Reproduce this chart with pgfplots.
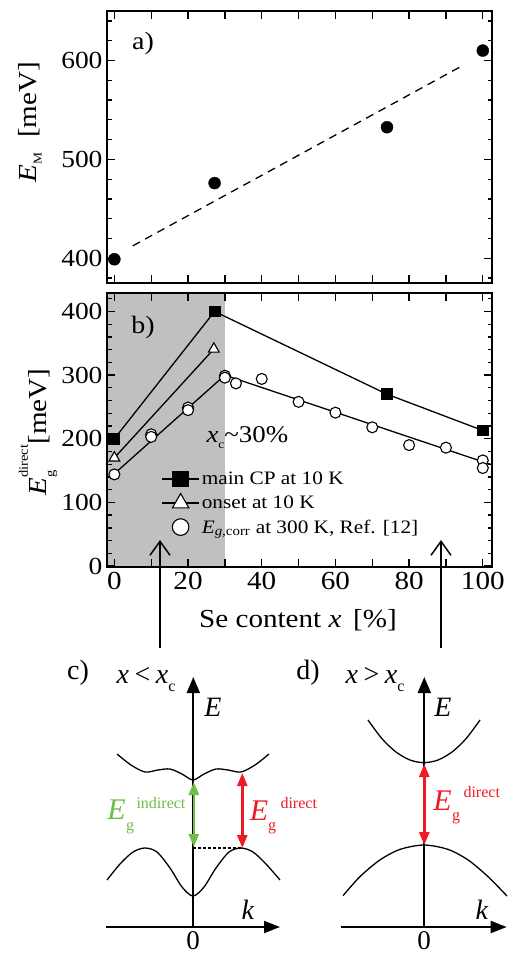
\documentclass[border=0pt]{standalone}
\usepackage{fontspec}
\setmainfont{Liberation Serif}
\usepackage{pgfplots}
\pgfplotsset{compat=1.18}
\usetikzlibrary{arrows.meta}
\definecolor{egreen}{RGB}{108,190,69}
\definecolor{ered}{RGB}{237,28,36}
\definecolor{shade}{RGB}{192,192,192}
\newcommand{\wide}[1]{\scalebox{1.12}[1]{#1}}
\newcommand{\fs}[1]{\fontsize{#1}{#1}\selectfont}
\newcommand{\yt}[1]{\wide{\fs{24.5}#1}}
\newcommand{\xt}[1]{\wide{\fs{26}#1}}
\pgfplotsset{
  panel/.style={
    scale only axis, width=385pt, anchor=south west,
    xmin=-2, xmax=102.5,
    xtick={0,10,...,100},
    tick align=inside, tick pos=both,
    major tick length=8pt, minor tick length=4.5pt,
    axis line style={line width=1.8pt},
    every tick/.append style={line width=1.3pt, black},
    /pgf/number format/assume math mode=true,
    yticklabel style={xshift=-1pt},
    axis on top,
  }
}
\begin{document}
\begin{tikzpicture}
\useasboundingbox (0,0) rectangle (507pt,-954pt);
% ---------------- a)
\begin{axis}[panel, at={(107pt,-283pt)}, height=272pt,
  ymin=375, ymax=650, ytick={400,500,600}, minor ytick={380,400,...,640},
  yticklabels={\yt{400},\yt{500},\yt{600}}, xticklabels={}]
\addplot[black, line width=1.3pt, dash pattern=on 8pt off 6pt] coordinates {(5,412.6)(95,595.8)};
\addplot[only marks, mark=*, mark size=6pt, black] coordinates {(0,399)(27.2,476)(74,532.5)(100,610)};
\end{axis}
% ---------------- b)
\begin{axis}[panel, at={(107pt,-567pt)}, height=274pt,
  ymin=-1.5, ymax=429, ytick={0,100,...,400}, minor ytick={0,20,...,420},
  yticklabels={\yt{0},\yt{100},\yt{200},\yt{300},\yt{400}},
  xticklabels={\xt{0},,\xt{20},,\xt{40},,\xt{60},,\xt{80},,\xt{100}},
  xticklabel style={yshift=-2pt},
  legend style={at={(rel axis cs:0.141,0.355)}, anchor=north west, draw=none, fill=none,
    font=\fs{19}, inner sep=0pt, row sep=5.5pt,
    /tikz/every even column/.append style={column sep=0pt}},
  legend cell align=left]
\addplot[fill=shade, draw=none, forget plot] coordinates {(-5,-10)(30,-10)(30,450)(-5,450)} -- cycle;
\addplot[black, line width=1.3pt, forget plot] coordinates {(0,145)(30,300)(102.5,159)};
\addplot[black, line width=1.3pt, mark=triangle*, mark size=6.2pt, mark options={fill=white, line width=1.1pt}, forget plot] coordinates {(0,170)(27,341)};
\addplot[black, line width=1.3pt, mark=square*, mark size=5.3pt, forget plot] coordinates {(0,200)(27.2,400)(74,270)(100,213)};
\addplot[only marks, mark=*, mark size=5.5pt, mark options={fill=white, draw=black, line width=1.1pt}, forget plot] coordinates {
(0,144)(10,207)(10,203)(20,249)(20,245)(30,299)(30,296)(33,287)(40,294)(50,258)(60,241)(70,218)(80,190)(90,186)(100,166)(100,154)};
\addlegendimage{legend image code/.code={\draw[black, line width=1.3pt, mark=square*, mark size=7.8pt, mark repeat=2, mark phase=2] plot coordinates {(0pt,0pt)(18.5pt,0pt)(37pt,0pt)};}}
\addlegendentry{\wide{main CP at 10 K}}
\addlegendimage{legend image code/.code={\draw[black, line width=1.3pt, mark=triangle*, mark size=9.5pt, mark options={fill=white, line width=1.1pt}, mark repeat=2, mark phase=2] plot coordinates {(0pt,0pt)(18.5pt,0pt)(37pt,0pt)};}}
\addlegendentry{\wide{onset at 10 K}}
\addlegendimage{legend image code/.code={\draw[black, line width=1.1pt, fill=white, only marks, mark=*, mark size=8.3pt, mark options={fill=white}] plot coordinates {(18.5pt,0pt)};\path (0pt,0pt) (37pt,0pt);}}
\addlegendentry{\wide{\textit{E}\textsubscript{\textit{g},corr} at 300 K, Ref. [12]}}
\end{axis}
% ---------------- overlay: labels, arrows, schematics c) d)
\begin{axis}[at={(0pt,-954pt)}, anchor=south west, scale only axis, width=507pt, height=954pt,
  xmin=0, xmax=507, ymin=-954, ymax=0, hide axis, clip=false]
% panel labels
\node[font=\fs{25}] at (axis cs:143,-43) {\wide{a)}};
\node[font=\fs{25}] at (axis cs:143,-327) {\wide{b)}};
\node[font=\fs{26}, rotate=90] at (axis cs:30,-122) {\wide{\textit{E}\raisebox{-0.2em}{\fs{12}M}\hspace{0.5em}[meV]}};
\node[font=\fs{26}, rotate=90] at (axis cs:38,-432) {\wide{\textit{E}\makebox[0pt][l]{\raisebox{-0.3em}{\fs{13}g}}\raisebox{0.72em}{\fs{13}direct}[meV]}};
\node[font=\fs{26}] at (axis cs:298,-620) {\wide{Se content \textit{x}\hspace{0.4em}[\%]}};
\node[font=\fs{24}, anchor=base west] at (axis cs:203,-442) {\wide{\textit{x}\raisebox{-0.25em}{\fs{12}c}\textasciitilde30\%}};
% arrows from b)
\addplot[black, line width=1.5pt, -{Straight Barb[length=14pt,width=20pt]}] coordinates {(160,-648)(160,-540)};
\addplot[black, line width=1.5pt, -{Straight Barb[length=14pt,width=20pt]}] coordinates {(441,-648)(441,-540)};
% ---- c)
\node[font=\fs{28}] at (axis cs:78,-673) {c)};
\node[font=\fs{28}, anchor=base west] at (axis cs:113,-683) {\textit{x}\hspace{0.2em}<\hspace{0.2em}\textit{x}\raisebox{-0.3em}{\fs{16}c}};
\node[font=\fs{28}] at (axis cs:213,-707) {\textit{E}};
\node[font=\fs{28}] at (axis cs:248,-910) {\textit{k}};
\node[font=\fs{27}] at (axis cs:193,-941) {0};
\addplot[black, line width=2pt, -{Triangle[length=16pt,width=13pt]}] coordinates {(193.3,-927)(193.3,-677)};
\addplot[black, line width=2pt, -{Triangle[length=16pt,width=12pt]}] coordinates {(106,-927)(280,-927)};
\addplot[black, line width=1.3pt, smooth] coordinates {(117,-754)(131,-765)(145,-772)(158,-770)(170,-769)(182,-774)(193,-780)(204,-774)(216,-769)(228,-770)(241,-772)(255,-765)(269,-754)};
\addplot[black, line width=1.3pt, smooth] coordinates {(107,-880)(120,-864)(133,-852)(145,-848)(157,-852)(170,-868)(182,-887)(193,-896)(204,-887)(216,-868)(229,-852)(241,-848)(253,-852)(266,-864)(280,-880)};
\addplot[black, line width=1.3pt, dash pattern=on 3pt off 2pt] coordinates {(193,-848)(242,-848)};
\addplot[egreen, line width=2.6pt, {Triangle[length=13pt,width=10pt]}-{Triangle[length=13pt,width=10pt]}] coordinates {(193.8,-782)(193.8,-847)};
\addplot[ered, line width=2.6pt, {Triangle[length=13pt,width=10pt]}-{Triangle[length=13pt,width=10pt]}] coordinates {(242.3,-773)(242.3,-848)};
\node[font=\fs{30}, text=egreen] at (axis cs:116.5,-810) {\textit{E}};
\node[font=\fs{16}, text=egreen] at (axis cs:130,-828) {g};
\node[font=\fs{16}, text=egreen, anchor=base west] at (axis cs:133,-808) {indirect};
\node[font=\fs{30}, text=ered] at (axis cs:259,-811) {\textit{E}};
\node[font=\fs{16}, text=ered] at (axis cs:272,-828) {g};
\node[font=\fs{16}, text=ered, anchor=base west] at (axis cs:277,-808) {direct};
% ---- d)
\node[font=\fs{28}] at (axis cs:308,-673) {d)};
\node[font=\fs{28}, anchor=base west] at (axis cs:342,-683) {\textit{x}\hspace{0.2em}>\hspace{0.2em}\textit{x}\raisebox{-0.3em}{\fs{16}c}};
\node[font=\fs{28}] at (axis cs:443,-707) {\textit{E}};
\node[font=\fs{28}] at (axis cs:482,-910) {\textit{k}};
\node[font=\fs{27}] at (axis cs:424,-941) {0};
\addplot[black, line width=2pt, -{Triangle[length=16pt,width=13pt]}] coordinates {(424.3,-927)(424.3,-677)};
\addplot[black, line width=2pt, -{Triangle[length=16pt,width=12pt]}] coordinates {(340.7,-927)(506.7,-927)};
\addplot[black, line width=1.3pt, smooth] coordinates {(368,-720)(382,-738.7)(396,-752)(410,-760)(424,-762.7)(438,-760)(452,-752)(466,-738.7)(480,-720)};
\addplot[black, line width=1.3pt, smooth] coordinates {(343,-895.7)(360,-876.6)(380,-859.9)(400,-849.4)(424,-845)(448,-849.4)(468,-859.9)(488,-876.6)(507,-896)};
\addplot[ered, line width=2.6pt, {Triangle[length=13pt,width=10pt]}-{Triangle[length=13pt,width=10pt]}] coordinates {(424.3,-764)(424.3,-845)};
\node[font=\fs{30}, text=ered] at (axis cs:442.5,-801) {\textit{E}};
\node[font=\fs{16}, text=ered] at (axis cs:456,-818) {g};
\node[font=\fs{16}, text=ered, anchor=base west] at (axis cs:460,-797) {direct};
\end{axis}
\end{tikzpicture}
\end{document}
